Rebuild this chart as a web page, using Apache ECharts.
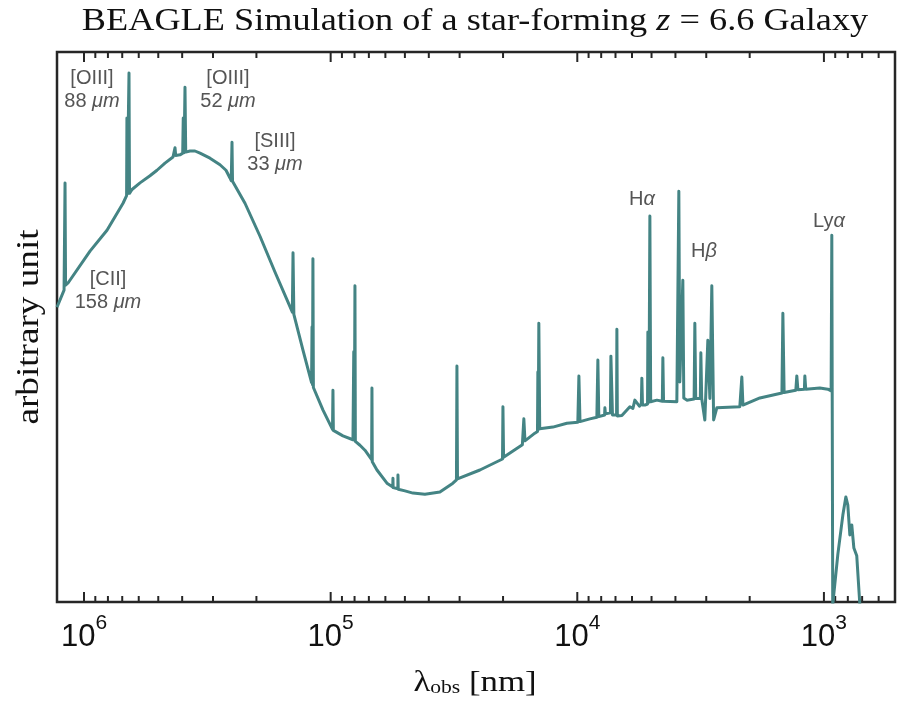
<!DOCTYPE html>
<html>
<head>
<meta charset="utf-8">
<script src="https://cdn.jsdelivr.net/npm/echarts@6/dist/echarts.min.js"></script>
<style>
html,body{margin:0;padding:0;background:#fff;}
#chart{width:906px;height:702px;}
</style>
</head>
<body>
<div id="chart"></div>
<script>
// Observed wavelength (nm) of each sampled point of the spectrum, in drawing order
const wavelength_nm = [
  1.287e6, 1.205e6, 1.198e6, 1.194e6, 1.188e6, 1.161e6, 9.456e5, 8.069e5, 6.948e5,
  6.72e5, 6.70e5, 6.68e5, 6.60e5, 6.571e5, 6.54e5, 6.389e5, 5.929e5, 5.402e5, 5.060e5, 4.696e5, 4.358e5,
  4.30e5, 4.277e5, 4.25e5, 4.083e5, 3.98e5, 3.96e5, 3.93e5, 3.896e5, 3.87e5, 3.718e5, 3.549e5, 3.386e5,
  3.085e5, 2.810e5, 2.657e5, 2.560e5, 2.53e5, 2.512e5, 2.50e5, 2.489e5, 2.225e5, 1.934e5, 1.682e5,
  1.43e5, 1.421e5, 1.41e5, 1.295e5, 1.195e5, 1.19e5, 1.185e5, 1.18e5, 1.175e5, 1.074e5,
  9.83e4, 9.788e4, 9.75e4, 8.917e4, 8.12e4, 8.06e4, 8.02e4, 7.971e4, 7.94e4, 7.607e4,
  7.261e4, 6.82e4, 6.801e4, 6.78e4, 6.490e4, 5.912e4, 5.60e4, 5.59e4, 5.58e4, 5.34e4,
  5.335e4, 5.32e4, 4.998e4, 4.638e4, 4.148e4, 3.606e4, 3.194e4, 3.09e4, 3.076e4, 3.06e4,
  2.482e4, 2.01e4, 2.002e4, 1.99e4, 1.67e4, 1.647e4, 1.63e4, 1.486e4, 1.45e4, 1.445e4,
  1.44e4, 1.432e4, 1.42e4, 1.256e4, 1.102e4, 9950, 9851, 9750, 8889, 8330, 8252, 8180,
  7750, 7728, 7690, 7340, 7307, 7200, 6930, 6910, 6880, 6595, 6121, 5950, 5842, 5600,
  5500, 5473, 5440, 5321, 5190, 5174, 5120, 5078, 5040, 4756, 4520, 4498, 4470, 3948,
  3875, 3840, 3733, 3700, 3596, 3360, 3337, 3310, 3170, 3155, 3130, 3040, 2956, 2900,
  2848, 2800, 2718, 2193, 2170, 2152, 2130, 1818, 1480, 1467, 1450, 1300, 1288, 1275,
  1200, 1195, 1185, 1039, 964, 935, 929, 921, 878, 838, 815, 800, 785, 771, 756, 736, 715
];
// Flux (arbitrary unit) at each of those wavelengths
const flux = [
  53.6, 56.7, 57.0, 76.2, 57.6, 58.0, 63.8, 67.6, 72.5,
  73.9, 88.0, 74.2, 74.0, 96.2, 74.3, 75.0, 76.2, 77.5, 78.5, 79.8, 80.9,
  81.1, 82.6, 81.2, 81.3, 81.6, 88.0, 81.7, 93.6, 81.8, 82.0, 82.0, 81.6,
  80.7, 79.5, 78.5, 77.1, 76.6, 83.6, 76.5, 76.4, 72.5, 66.5, 60.0,
  52.7, 63.5, 52.3, 45.8, 39.9, 50.0, 39.5, 62.4, 39.0, 34.9,
  31.4, 38.5, 31.2, 30.2, 29.5, 45.5, 29.4, 57.5, 29.2, 28.5,
  27.6, 25.9, 38.9, 25.5, 24.0, 21.6, 20.9, 22.5, 20.8, 20.6,
  23.1, 20.5, 20.2, 19.8, 19.6, 20.0, 21.6, 22.2, 42.9, 22.4,
  24.0, 26.0, 35.5, 26.3, 28.6, 33.3, 29.3, 30.7, 31.0, 41.8,
  31.3, 50.7, 31.5, 31.8, 32.5, 32.7, 41.1, 32.8, 33.3, 33.6, 44.0, 33.7,
  34.0, 35.3, 34.2, 34.4, 44.7, 34.0, 34.0, 49.6, 33.8, 33.9, 35.5, 35.2, 36.7, 35.6,
  36.0, 40.7, 35.8, 35.8, 36.0, 49.1, 36.3, 70.2, 36.4, 36.7, 36.5, 44.4, 36.5, 36.4,
  74.7, 40.0, 58.5, 37.1, 36.7, 36.9, 50.7, 37.0, 37.0, 45.3, 37.0, 33.1, 47.6, 37.0,
  57.5, 33.1, 35.3, 35.5, 35.6, 40.9, 35.8, 37.1, 38.0, 52.5, 38.1, 38.5, 41.1, 38.6,
  38.7, 41.1, 38.7, 38.9, 38.7, 38.4, 66.7, -0.5, 8.7, 15.8, 19.1, 17.6, 12.2, 14.0, 9.8, 8.4, -0.5
];
// Axis tick values (nm)
const majorTickValues = [1000, 10000, 100000, 1000000];
const minorTickValues = [
  600, 700, 800, 900,
  2000, 3000, 4000, 5000, 6000, 7000, 8000, 9000,
  20000, 30000, 40000, 50000, 60000, 70000, 80000, 90000,
  200000, 300000, 400000, 500000, 600000, 700000, 800000, 900000
];
const xRange = [515, 1.287e6];
const yRange = [0, 100];

const titleText = 'BEAGLE Simulation of a star-forming {i|z} = 6.6 Galaxy';
const xName = 'λ{sub|obs} [nm]';
const yName = 'arbitrary unit';
const lineLabels = [
  {text: '[OIII]\n88 {i|μm}'},
  {text: '[OIII]\n52 {i|μm}'},
  {text: '[SIII]\n33 {i|μm}'},
  {text: '[CII]\n158 {i|μm}'},
  {text: 'H{i|α}'},
  {text: 'H{i|β}'},
  {text: 'Ly{i|α}'}
];

const TEAL = '#448484';
const FRAME = '#262626';
const SERIF = '"Liberation Serif", "DejaVu Serif", serif';
const SANS = '"Liberation Sans", Arial, sans-serif';

const chart = echarts.init(document.getElementById('chart'), null, {renderer: 'canvas'});

const spectrum = wavelength_nm.map((w, i) => [w, flux[i]]);
const ticks = majorTickValues.map(v => [v, 1]).concat(minorTickValues.map(v => [v, 0]));

// label placement (pixel centres), in the order of lineLabels
const labelPos = [[92, 90], [228, 90], [275, 153], [108, 291], [642, 199], [704, 251], [829, 221]];

const annoRich = {
  i: {fontStyle: 'italic', fontFamily: SANS, fontSize: 20, fill: '#555', lineHeight: 23}
};

const graphics = lineLabels.map((l, k) => ({
  type: 'text',
  x: labelPos[k][0], y: labelPos[k][1],
  style: {
    text: l.text,
    fontFamily: SANS, fontSize: 20, fill: '#555',
    lineHeight: 23,
    align: 'center', verticalAlign: 'middle',
    textAlign: 'center', textVerticalAlign: 'middle',
    rich: annoRich
  },
  z: 100
}));

graphics.push({
  type: 'text', x: 475, y: 22, scaleX: 1.17,
  style: {
    text: titleText, fontFamily: SERIF, fontSize: 31, fill: '#111',
    align: 'center', verticalAlign: 'middle', textAlign: 'center', textVerticalAlign: 'middle',
    rich: {i: {fontStyle: 'italic', fontFamily: SERIF, fontSize: 31, fill: '#111'}}
  }, z: 100
});
graphics.push({
  type: 'text', x: 475, y: 683, scaleX: 1.2,
  style: {
    text: xName, fontFamily: SERIF, fontSize: 29, fill: '#111',
    align: 'center', verticalAlign: 'middle', textAlign: 'center', textVerticalAlign: 'middle',
    rich: {sub: {fontFamily: SERIF, fontSize: 18, fill: '#111', padding: [10, 0, 0, 0]}}
  }, z: 100
});
graphics.push({
  type: 'text', x: 30, y: 327, rotation: Math.PI / 2, scaleX: 1.2,
  style: {
    text: yName, fontFamily: SERIF, fontSize: 31, fill: '#111',
    align: 'center', verticalAlign: 'middle', textAlign: 'center', textVerticalAlign: 'middle'
  }, z: 100
});

const option = {
  backgroundColor: '#fff',
  animation: false,
  grid: {
    left: 57, right: 11, top: 52, bottom: 100,
    show: true, borderColor: FRAME, borderWidth: 2.5, backgroundColor: 'transparent'
  },
  xAxis: {
    type: 'log', logBase: 10, inverse: true,
    min: xRange[0], max: xRange[1],
    axisLine: {show: false}, axisTick: {show: false}, splitLine: {show: false}, minorTick: {show: false},
    axisLabel: {
      show: true, margin: 11, showMinLabel: false, showMaxLabel: false,
      formatter: function (v) {
        const lg = Math.log10(v);
        const n = Math.round(lg);
        if (Math.abs(lg - n) > 1e-6) return '';
        return '{b|10}{s|' + n + '}';
      },
      rich: {
        b: {fontFamily: SANS, fontSize: 31, color: '#111', lineHeight: 40, verticalAlign: 'bottom'},
        s: {fontFamily: SANS, fontSize: 21, color: '#111', lineHeight: 40, verticalAlign: 'top'}
      }
    }
  },
  yAxis: {
    type: 'value', min: yRange[0], max: yRange[1],
    axisLine: {show: false}, axisTick: {show: false}, axisLabel: {show: false}, splitLine: {show: false}
  },
  graphic: graphics,
  series: [
    {
      type: 'custom', coordinateSystem: 'cartesian2d', silent: true, z: 1,
      data: ticks,
      encode: {x: 0, y: 1},
      renderItem: function (params, api) {
        const v = api.value(0);
        const len = api.value(1) === 1 ? 10 : 6;
        const pb = api.coord([v, yRange[0]]);
        const pt = api.coord([v, yRange[1]]);
        return {
          type: 'group',
          children: [
            {type: 'line', shape: {x1: pb[0], y1: pb[1], x2: pb[0], y2: pb[1] - len}, style: {stroke: FRAME, lineWidth: 2}},
            {type: 'line', shape: {x1: pt[0], y1: pt[1], x2: pt[0], y2: pt[1] + len}, style: {stroke: FRAME, lineWidth: 2}}
          ]
        };
      }
    },
    {
      type: 'line', data: spectrum, showSymbol: false, symbol: 'none', z: 2,
      clip: true, sampling: null,
      lineStyle: {color: TEAL, width: 3, join: 'round'}
    }
  ]
};
chart.setOption(option);
</script>
</body>
</html>
